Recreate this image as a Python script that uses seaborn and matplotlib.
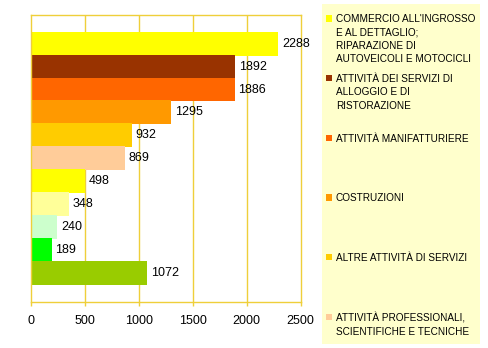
import matplotlib
matplotlib.use("Agg")
import matplotlib.pyplot as plt
from matplotlib.patches import Rectangle
import seaborn as sns
import pandas as pd

# ---- data ----
categories = [
    "COMMERCIO ALL'INGROSSO\nE AL DETTAGLIO;\nRIPARAZIONE DI\nAUTOVEICOLI E MOTOCICLI",
    "ATTIVITÀ DEI SERVIZI DI\nALLOGGIO E DI\nRISTORAZIONE",
    "ATTIVITÀ MANIFATTURIERE",
    "COSTRUZIONI",
    "ALTRE ATTIVITÀ DI SERVIZI",
    "ATTIVITÀ PROFESSIONALI,\nSCIENTIFICHE E TECNICHE",
    "TRASPORTO E MAGAZZINAGGIO",
    "SERVIZI DI INFORMAZIONE E COMUNICAZIONE",
    "NOLEGGIO, AGENZIE DI VIAGGIO, SERVIZI DI SUPPORTO ALLE IMPRESE",
    "ATTIVITÀ IMMOBILIARI",
    "AGRICOLTURA, SILVICOLTURA E PESCA",
]
values = [2288, 1892, 1886, 1295, 932, 869, 498, 348, 240, 189, 1072]
colors = ["#FFFF00", "#993300", "#FF6600", "#FF9900", "#FFCC00", "#FFCC99",
          "#FFFF00", "#FFFF99", "#CCFFCC", "#00FF00", "#99CC00"]
x_ticks = [0, 500, 1000, 1500, 2000, 2500]
legend_visible = 6  # the legend box only shows the first entries

df = pd.DataFrame({"categoria": categories, "valore": values})

sns.set_style("white")
plt.rcParams["font.family"] = ["Liberation Sans", "DejaVu Sans"]

W, H = 488, 348
fig = plt.figure(figsize=(W / 100, H / 100), dpi=100)
fig.patch.set_facecolor("white")

ax = fig.add_axes([31 / W, 1 - 301.5 / H, (300.5 - 31) / W, (301.5 - 15) / H])
gold = "#EFCF3A"

sns.barplot(data=df, x="valore", y="categoria", hue="categoria",
            palette=colors, orient="h", width=1, saturation=1,
            legend=False, ax=ax, zorder=2, linewidth=0, edgecolor="none")

for cont in ax.containers:
    for p in cont:
        p.set_linewidth(0)
        p.set_edgecolor("none")
        p.set_snap(False)
        p.set_antialiased(False)
    ax.bar_label(cont, padding=3, fontsize=9, color="black")

ax.set_xlim(0, 2500)
ax.set_ylim(10.5 + 0.755, -0.5 - 0.755)
ax.set_xticks(x_ticks)
ax.set_xticklabels([str(t) for t in x_ticks])
ax.set_yticks([])
ax.set_xlabel("")
ax.set_ylabel("")
ax.set_facecolor("white")
ax.grid(False)
for t in x_ticks[1:-1]:
    ax.axvline(t, color=gold, linewidth=1.0, zorder=0)
for s in ax.spines.values():
    s.set_color(gold)
    s.set_linewidth(1.0)
    s.set_visible(True)
ax.tick_params(axis="x", direction="out", length=3, width=1.0, color=gold,
               labelsize=9, pad=6.5, labelcolor="black", bottom=True)

# ---- legend (drawn in figure pixel space) ----
def fx(px):
    return px / W

def fy(py):
    return 1 - py / H

fig.patches.append(Rectangle((fx(322), fy(344)), (480 - 322) / W, (344 - 4) / H,
                             transform=fig.transFigure, facecolor="#FFFFCC",
                             edgecolor="none", zorder=0))
for i in range(legend_visible):
    top = 14.3 + 59.7 * i
    fig.patches.append(Rectangle((fx(326), fy(top + 7.2)), 6.3 / W, 6.3 / H,
                                 transform=fig.transFigure, facecolor=colors[i],
                                 edgecolor="none", zorder=1))
    fig.text(fx(336), fy(top), categories[i], ha="left", va="top",
             fontsize=7.2, linespacing=1.42, color="black")

fig.savefig("out.png", dpi=100)
